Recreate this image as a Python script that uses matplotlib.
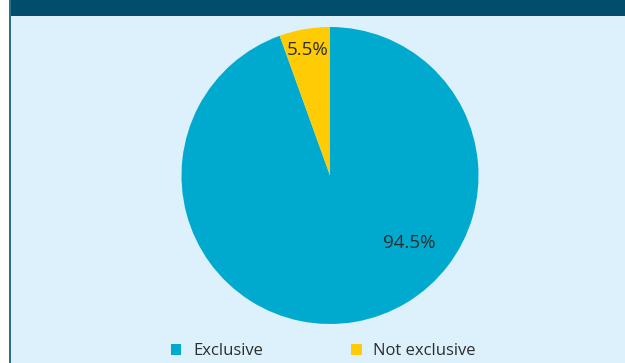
import matplotlib
matplotlib.use('Agg')
import matplotlib.pyplot as plt
from matplotlib.patches import Rectangle, Patch

plt.rcParams['font.family'] = ['Open Sans', 'DejaVu Sans']

# share of contracts
labels = ['Exclusive', 'Not exclusive']
shares = [94.5, 5.5]
colors = ['#00aacf', '#ffcb05']

W, H = 625, 363
fig = plt.figure(figsize=(W / 100, H / 100), dpi=100)
fig.patch.set_facecolor('white')

# panel background, header strip and left rule (behind the axes)
fig.patches.append(Rectangle((9 / W, 0), 1 - 9 / W, 1, transform=fig.transFigure,
                             facecolor='#dcf1fc', edgecolor='none', zorder=-3))
fig.patches.append(Rectangle((9 / W, 1 - 16 / H), 1 - 9 / W, 16 / H, transform=fig.transFigure,
                             facecolor='#004e6c', edgecolor='none', zorder=-2))
fig.patches.append(Rectangle((9 / W, 0), 2 / W, 1, transform=fig.transFigure,
                             facecolor='#2b6f8c', edgecolor='none', zorder=-2))

cx, cy, r = 330, 175.5, 150
ax = fig.add_axes([(cx - r) / W, (H - cy - r) / H, 2 * r / W, 2 * r / H])
ax.set_facecolor('none')

wedges, texts, autotexts = ax.pie(shares, colors=colors, startangle=90, counterclock=False,
                                  radius=0.99, autopct='%1.1f%%', pctdistance=0.86,
                                  textprops={'fontsize': 13.5, 'color': '#2d2d2d'})
# move the big slice's label off its mid-angle
autotexts[0].set_position((0.53, -0.45))

ax.set_xlim(-1, 1)
ax.set_ylim(-1, 1)
ax.set_aspect('equal')
ax.axis('off')

handles = [Patch(facecolor=c, edgecolor='none', label=l) for c, l in zip(colors, labels)]
fig.legend(handles=handles, loc='center left', bbox_to_anchor=(156 / W, 1 - 351 / H),
           ncol=2, frameon=False, fontsize=12, handlelength=0.62, handleheight=0.62,
           handletextpad=0.7, columnspacing=5.3, labelcolor='#2d2d2d')

fig.savefig('out.png', dpi=100, facecolor=fig.get_facecolor())
